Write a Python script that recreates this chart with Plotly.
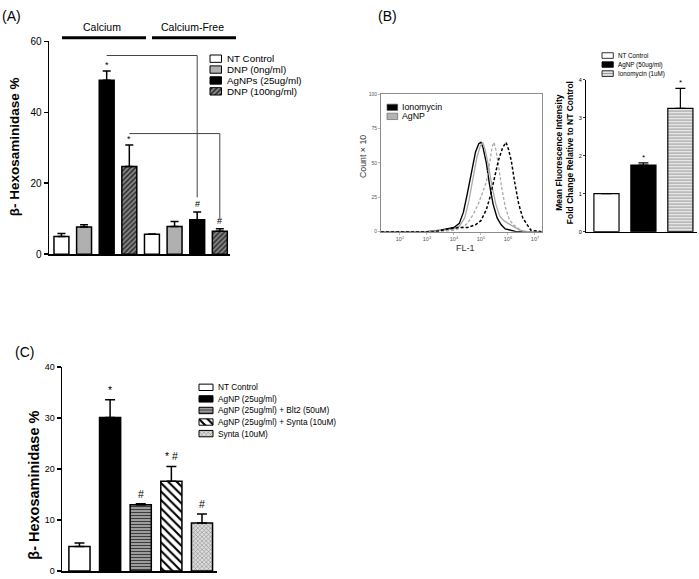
import plotly.graph_objects as go

W, H = 699, 579
FONT = "Arial, Liberation Sans, sans-serif"

# ---------------- Panel A data ----------------
a_groups = ["Calcium", "Calcium-Free"]
a_series = ["NT Control", "DNP (0ng/ml)", "AgNPs (25ug/ml)", "DNP (100ng/ml)"]
a_nt = [5.0, 5.6]
a_dnp0 = [7.7, 7.8]
a_agnp = [49.0, 9.7]
a_dnp100 = [24.7, 6.5]
a_nt_err = [0.8, 0.1]
a_dnp0_err = [0.6, 1.4]
a_agnp_err = [2.6, 2.2]
a_dnp100_err = [6.1, 0.7]
a_nt_sig = ["", ""]
a_dnp0_sig = ["", ""]
a_agnp_sig = ["*", "#"]
a_dnp100_sig = ["*", "#"]
a_yticks = [0, 20, 40, 60]
a_bracket_series = [2, 3]
a_bracket_levels = [56, 34]
a_bracket_ends = [16, 10]

# ---------------- Panel B histogram data (x = log10 FL-1) ----------------
b_hist_xticks = [2, 3, 4, 5, 6, 7]
b_hist_yticks = [0, 25, 50, 75, 100]
b_hist_legend = ["Ionomycin", "AgNP"]
bs_x = [1.3, 3.0, 3.5, 3.8, 4.0, 4.2, 4.35, 4.5, 4.65, 4.8, 4.92, 5.0, 5.08, 5.2, 5.32, 5.45, 5.6, 5.75, 5.9, 6.1, 6.3, 7.25]
bs_y = [0, 0, 1, 2, 3, 6, 14, 28, 44, 58, 64, 65, 61, 50, 34, 20, 10, 5, 2, 1, 0, 0]
gs_x = [1.3, 3.0, 3.6, 4.0, 4.2, 4.4, 4.55, 4.7, 4.85, 4.97, 5.07, 5.15, 5.28, 5.4, 5.55, 5.7, 5.85, 6.0, 6.2, 6.45, 6.7, 7.25]
gs_y = [0, 0, 1, 2, 4, 10, 22, 38, 54, 62, 65, 60, 48, 34, 20, 11, 8, 6, 4, 1, 0, 0]
gd_x = [1.3, 3.5, 4.0, 4.3, 4.5, 4.7, 4.9, 5.05, 5.2, 5.32, 5.42, 5.48, 5.55, 5.65, 5.76, 5.9, 6.05, 6.2, 6.4, 6.6, 7.25]
gd_y = [0, 0, 1, 3, 6, 12, 20, 28, 36, 50, 62, 65, 60, 48, 33, 18, 9, 5, 2, 0, 0]
bd_x = [1.3, 3.3, 3.8, 4.2, 4.5, 4.8, 5.0, 5.2, 5.35, 5.5, 5.65, 5.8, 5.93, 6.02, 6.12, 6.25, 6.4, 6.55, 6.7, 6.85, 7.25]
bd_y = [0, 0, 2, 3, 3, 5, 8, 16, 26, 40, 52, 61, 65, 60, 52, 36, 20, 10, 5, 1, 0]

# ---------------- Panel B bar data ----------------
b_cats = ["NT Control", "AgNP (50ug/ml)", "Ionomycin (1uM)"]
b_vals = [1.0, 1.75, 3.24]
b_err = [0.0, 0.06, 0.53]
b_sig = ["", "*", "*"]
b_yticks = [0, 1, 2, 3, 4]

# ---------------- Panel C data ----------------
c_cats = ["NT Control", "AgNP (25ug/ml)", "AgNP (25ug/ml) + Blt2 (50uM)",
          "AgNP (25ug/ml) + Synta (10uM)", "Synta (10uM)"]
c_vals = [4.8, 30.1, 13.0, 17.6, 9.4]
c_err = [0.7, 3.5, 0.2, 2.9, 1.8]
c_sig = ["", "*", "#", "* #", "#"]
c_yticks = [0, 10, 20, 30, 40]


def px(x):
    return x / W


def py(y):
    return 1 - y / H


# styles: bg = fill colour, shape/fg/size/sol = pattern
S_WHITE = dict(bg="white", shape="", fg="black", size=4, sol=0.4)
S_LGRAY = dict(bg="#b0b0b0", shape="", fg="black", size=4, sol=0.4)
S_BLACK = dict(bg="black", shape="", fg="black", size=4, sol=0.4)
S_DHATCH = dict(bg="#8a8a8a", shape="/", fg="#2a2a2a", size=3.5, sol=0.45)
S_HSTRIPE_LIGHT = dict(bg="white", shape="-", fg="#9a9a9a", size=3, sol=0.5)
S_HSTRIPE_DARK = dict(bg="#bdbdbd", shape="-", fg="#3c3c3c", size=3, sol=0.5)
S_BSLASH = dict(bg="white", shape="\\", fg="black", size=6, sol=0.35)
S_CHECK = dict(bg="#dcdcdc", shape="x", fg="#7a7a7a", size=3, sol=0.3)
S_HIST_GRAY = dict(bg="#b4b4b4", shape="", fg="black", size=4, sol=0.4)


def marker_of(st, lw, lcol="black"):
    m = dict(color=st["bg"], line=dict(color=lcol, width=lw))
    if st["shape"]:
        m["pattern"] = dict(shape=st["shape"], fgcolor=st["fg"], bgcolor=st["bg"], size=st["size"],
                            solidity=st["sol"], fillmode="overlay", fgopacity=1)
    return m


fig = go.Figure()


def add_bar(xa, ya, x, y, err, st, width, lw, capw, thick):
    fig.add_trace(go.Bar(
        x=[x], y=[y], width=width, showlegend=False, hoverinfo="skip",
        marker=marker_of(st, lw),
        error_y=dict(type="data", symmetric=False, array=[err], arrayminus=[0],
                     color="black", thickness=thick, width=capw),
        xaxis=xa, yaxis=ya))


def add_sig(xa, ya, x, ytop, text, size, shift_star, shift_hash):
    if not text:
        return
    fig.add_annotation(x=x, y=ytop, xref=xa, yref=ya, text=text, showarrow=False, yanchor="bottom",
                       yshift=shift_star if text.startswith("*") else shift_hash,
                       font=dict(size=size, family=FONT, color="black"))


# ---------------- Panel A bars ----------------
a_values = [a_nt, a_dnp0, a_agnp, a_dnp100]
a_errors = [a_nt_err, a_dnp0_err, a_agnp_err, a_dnp100_err]
a_sigs = [a_nt_sig, a_dnp0_sig, a_agnp_sig, a_dnp100_sig]
a_styles = [S_WHITE, S_LGRAY, S_BLACK, S_DHATCH]
nser = len(a_series)
for s in range(nser):
    for g in range(len(a_groups)):
        xpos = g * nser + s
        add_bar("x", "y", xpos, a_values[s][g], a_errors[s][g], a_styles[s], 0.66, 1.5, 4, 1.5)
        add_sig("x", "y", xpos, a_values[s][g] + a_errors[s][g], a_sigs[s][g], 9, -1, 1)

for s, lvl, end in zip(a_bracket_series, a_bracket_levels, a_bracket_ends):
    x0 = s
    x1 = nser + s
    fig.add_shape(type="path", xref="x", yref="y",
                  path=f"M {x0},{lvl} L {x1},{lvl} L {x1},{end}",
                  line=dict(color="#444444", width=1))

# group labels and lines
grp_lines = [(62, 146), (152, 236)]
for label, (l0, l1) in zip(a_groups, grp_lines):
    fig.add_shape(type="line", xref="paper", yref="paper", x0=px(l0), x1=px(l1), y0=py(32.3), y1=py(32.3),
                  line=dict(color="black", width=3))
    fig.add_annotation(x=px((l0 + l1) / 2 - 2), y=py(21.5), xref="paper", yref="paper", text=label,
                       showarrow=False, xanchor="center", yanchor="middle",
                       font=dict(size=10.5, family=FONT, color="black"))

# ---------------- Panel B histogram ----------------
hist_lines = [
    (bs_x, bs_y, "black", "solid", 1.4),
    (gs_x, gs_y, "#a8a8a8", "solid", 1.3),
    (gd_x, gd_y, "#a8a8a8", "3px,2px", 1.3),
    (bd_x, bd_y, "black", "3px,2px", 1.5),
]
for xs, ys, col, dash, lw in hist_lines:
    fig.add_trace(go.Scatter(x=xs, y=ys, mode="lines", line=dict(color=col, dash=dash, width=lw),
                             showlegend=False, xaxis="x2", yaxis="y2", hoverinfo="skip"))

# ---------------- Panel B bars ----------------
b_styles = [S_WHITE, S_BLACK, S_HSTRIPE_LIGHT]
for i in range(len(b_cats)):
    add_bar("x3", "y3", i, b_vals[i], b_err[i], b_styles[i], 0.68, 1.2, 5, 1.2)
    add_sig("x3", "y3", i, b_vals[i] + b_err[i], b_sig[i], 8, -1, 0)

# ---------------- Panel C bars ----------------
c_styles = [S_WHITE, S_BLACK, S_HSTRIPE_DARK, S_BSLASH, S_CHECK]
for i in range(len(c_cats)):
    add_bar("x4", "y4", i, c_vals[i], c_err[i], c_styles[i], 0.69, 1.5, 5, 1.5)
    add_sig("x4", "y4", i, c_vals[i] + c_err[i], c_sig[i], 10.5, 2, 2)


# ---------------- custom legends ----------------
def add_legend(n_axis, labels, styles, x0, x1, c0, step, box_h, fsize, gap, lw=1.0, lcol="black"):
    n = len(labels)
    w = x1 - x0
    fig.update_layout({
        f"xaxis{n_axis}": dict(domain=[px(x0 - 0.25 * w), px(x1 + 0.25 * w)], range=[-0.25, 1.25],
                               visible=False, fixedrange=True, anchor=f"y{n_axis}"),
        f"yaxis{n_axis}": dict(domain=[py(c0 + (n - 0.5) * step), py(c0 - 0.5 * step)], range=[n - 0.5, -0.5],
                               visible=False, fixedrange=True, anchor=f"x{n_axis}"),
    })
    for i, lab in enumerate(labels):
        fig.add_trace(go.Bar(
            orientation="h", y=[i], x=[1], base=0, width=box_h / step, showlegend=False,
            marker=marker_of(styles[i], lw, lcol), xaxis=f"x{n_axis}", yaxis=f"y{n_axis}", hoverinfo="skip"))
        fig.add_annotation(x=1, y=i, xref=f"x{n_axis}", yref=f"y{n_axis}", text=lab, showarrow=False,
                           xanchor="left", yanchor="middle", xshift=gap,
                           font=dict(size=fsize, family=FONT, color="black"))


add_legend(5, a_series, a_styles, 210, 221.5, 53.7, 11.1, 7.5, 9.8, 3)
add_legend(6, b_hist_legend, [S_BLACK, S_HIST_GRAY], 387, 397.7, 103.3, 9.2, 6.5, 8.8, 2, lw=0.6, lcol="#555")
add_legend(7, b_cats, b_styles, 602, 613.3, 50.5, 9.2, 5.7, 6.3, 3, lw=0.8)
add_legend(8, c_cats, c_styles, 199, 213, 388.7, 11.8, 6.5, 8.3, 3)

# ---------------- axes ----------------
ax_common = dict(showgrid=False, zeroline=False, fixedrange=True)
fig.update_layout(
    xaxis=dict(domain=[px(49), px(230)], range=[-0.55, 7.45], showline=True, linecolor="black", linewidth=1.5,
               showticklabels=False, ticks="", anchor="y", **ax_common),
    yaxis=dict(domain=[py(253), py(36)], range=[0, 60], showline=True, linecolor="black", linewidth=1.5,
               ticks="outside", ticklen=4, tickwidth=1.5, tickcolor="black", tickvals=a_yticks,
               tickfont=dict(size=10, family=FONT, color="black"), anchor="x", **ax_common),
    xaxis2=dict(domain=[px(381), px(541.7)], range=[1.3, 7.25], showline=True, linecolor="#8c8c8c", linewidth=1,
                mirror=True, ticks="outside", ticklen=2, tickwidth=0.6, tickcolor="#888",
                tickvals=b_hist_xticks, ticktext=[f"10<sup>{t}</sup>" for t in b_hist_xticks],
                tickfont=dict(size=5.5, family=FONT, color="#555"), anchor="y2", **ax_common),
    yaxis2=dict(domain=[py(230), py(90)], range=[0, 100], showline=True, linecolor="#8c8c8c", linewidth=1,
                mirror=True, ticks="outside", ticklen=2, tickwidth=0.6, tickcolor="#888",
                tickvals=b_hist_yticks, tickfont=dict(size=5, family=FONT, color="#555"), anchor="x2", **ax_common),
    xaxis3=dict(domain=[px(586), px(697)], range=[-0.554, 2.45], showline=True, linecolor="black", linewidth=1,
                showticklabels=False, ticks="", anchor="y3", **ax_common),
    yaxis3=dict(domain=[py(230), py(75)], range=[0, 4], showline=True, linecolor="black", linewidth=1,
                ticks="outside", ticklen=2, tickwidth=0.8, tickcolor="black", tickvals=b_yticks,
                tickfont=dict(size=5.5, family=FONT, color="black"), anchor="x3", **ax_common),
    xaxis4=dict(domain=[px(62), px(217)], range=[-0.57, 4.49], showline=True, linecolor="black", linewidth=1.5,
                showticklabels=False, ticks="", anchor="y4", **ax_common),
    yaxis4=dict(domain=[py(576), py(368)], range=[0, 40], showline=True, linecolor="black", linewidth=1.5,
                ticks="outside", ticklen=4, tickwidth=1.5, tickcolor="black", tickvals=c_yticks,
                tickfont=dict(size=9, family=FONT, color="black"), anchor="x4", **ax_common),
)


# ---------------- titles & panel labels ----------------
def paper_text(x, y, text, size, angle=0, weight="normal", color="black"):
    fig.add_annotation(x=px(x), y=py(y), xref="paper", yref="paper", text=text, showarrow=False,
                       textangle=angle, xanchor="center", yanchor="middle",
                       font=dict(size=size, family=FONT, color=color, weight=weight))


paper_text(11, 10, "(A)", 14)
paper_text(387, 10, "(B)", 14)
paper_text(24, 353, "(C)", 14)
paper_text(14, 144, "β- Hexosaminidase %", 13.5, angle=-90, weight="bold")
paper_text(34, 489, "β- Hexosaminidase %", 14.5, angle=-90, weight="bold")
paper_text(564, 150, "Mean Fluorescence Intensity<br>Fold Change Relative to NT Control", 8.5, angle=-90,
           weight="bold")
paper_text(363, 153, "Count × 10", 8.8, angle=-90, color="#333")
paper_text(465, 247, "FL-1", 9, color="#333")

fig.update_layout(
    width=W, height=H, autosize=False, margin=dict(l=0, r=0, t=0, b=0),
    paper_bgcolor="white", plot_bgcolor="rgba(0,0,0,0)", barmode="overlay", showlegend=False,
    font=dict(family=FONT), hovermode=False,
)

fig.write_html("out.html",
               config={"displayModeBar": False, "staticPlot": True},
               post_script="document.body.style.margin='0';document.body.style.padding='0';"
                           "document.body.style.overflow='hidden';")
